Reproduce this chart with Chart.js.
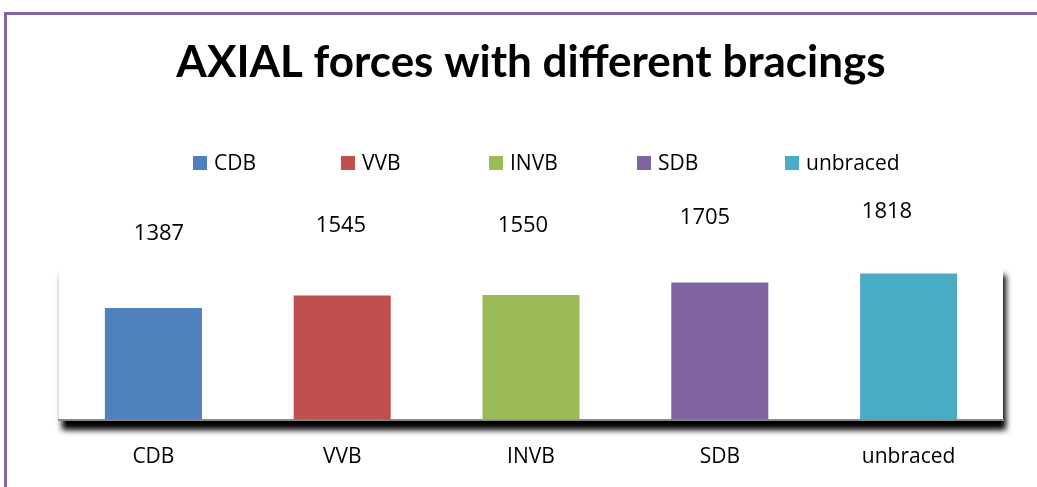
<!DOCTYPE html>
<html>
<head>
<meta charset="utf-8">
<script src="https://cdn.jsdelivr.net/npm/chart.js@4/dist/chart.umd.min.js"></script>
<style>
  html, body { margin: 0; padding: 0; background: #fff; overflow: hidden; }
  #frame { position: absolute; left: 4px; top: 12px; width: 1100px; height: 600px;
           border-left: 3px solid #8466a6; border-top: 3px solid #8466a6; }
  #wrap { position: absolute; left: 0; top: 0; width: 1037px; height: 487px; }
</style>
</head>
<body>
<div id="frame"></div>
<div id="wrap"><canvas id="axialChart"></canvas></div>
<script>
// datos del grafico
const categories = ['CDB', 'VVB', 'INVB', 'SDB', 'unbraced'];
const axialForces = [1387, 1545, 1550, 1705, 1818];
const barColors = ['#4f81bd', '#c0504d', '#9bbb59', '#8064a2', '#4bacc6'];

const ctx = document.getElementById('axialChart').getContext('2d');
const titleFont = 'Lato, "Liberation Sans", sans-serif';
const textFont = '"Open Sans", "Liberation Sans", sans-serif';

// sombra del area del grafico (estilo Excel)
const plotShadow = {
  id: 'plotShadow',
  beforeDraw(chart) {
    const { ctx, chartArea: a } = chart;
    ctx.save();
    ctx.shadowColor = 'rgba(0,0,0,1)';
    ctx.shadowBlur = 6;
    ctx.shadowOffsetX = 3;
    ctx.shadowOffsetY = 10;
    ctx.fillStyle = '#fff';
    ctx.fillRect(a.left, a.top, a.right - a.left, a.bottom - a.top);
    ctx.restore();
  }
};

// leyenda y etiquetas de valores
const labelsPlugin = {
  id: 'labelsPlugin',
  afterDraw(chart) {
    const { ctx, chartArea: a } = chart;
    const y = chart.scales.y;
    const meta = chart.getDatasetMeta(0);
    ctx.save();
    ctx.font = '21px ' + textFont;
    ctx.fillStyle = '#000';
    ctx.textBaseline = 'middle';

    // leyenda
    categories.forEach((c, i) => {
      const x = 193 + i * 148;
      ctx.fillStyle = barColors[i];
      ctx.fillRect(x, 156, 14, 14);
      ctx.fillStyle = '#000';
      ctx.textAlign = 'left';
      ctx.fillText(c, x + 21, 164);
    });

    // valores sobre las barras
    ctx.font = '22px ' + textFont;
    ctx.textAlign = 'center';
    meta.data.forEach((bar, i) => {
      const top = y.getPixelForValue(axialForces[i]);
      const ly = top - (top - (a.top - 164)) * 0.357;
      const lx = bar.x + 9 - 0.036 * (bar.x - a.left);
      ctx.fillText(String(axialForces[i]), lx, ly);
    });
    ctx.restore();
  }
};

const axialChart = new Chart(ctx, {
  type: 'bar',
  data: {
    labels: categories,
    datasets: [{
      label: 'Axial force',
      data: axialForces,
      backgroundColor: barColors,
      borderWidth: 0,
      barPercentage: 0.514,
      categoryPercentage: 1
    }]
  },
  options: {
    responsive: true,
    maintainAspectRatio: false,
    animation: false,
    layout: { padding: { left: 59, right: 34, top: 0, bottom: 0 } },
    plugins: {
      legend: { display: false },
      tooltip: { enabled: false },
      title: {
        display: true,
        text: 'AXIAL forces with different bracings',
        color: '#000',
        font: { family: titleFont, size: 44, weight: 'bold' },
        padding: { top: 36, bottom: 176 }
      }
    },
    scales: {
      x: {
        grid: { display: false, drawTicks: false },
        border: { display: true, color: '#888', width: 2 },
        ticks: { color: '#000', padding: 25, font: { family: textFont, size: 21 } },
        afterFit: (s) => { s.height = s.height - 8; }
      },
      y: {
        display: false,
        min: 0,
        max: 1925
      }
    }
  },
  plugins: [plotShadow, labelsPlugin]
});
</script>
</body>
</html>
